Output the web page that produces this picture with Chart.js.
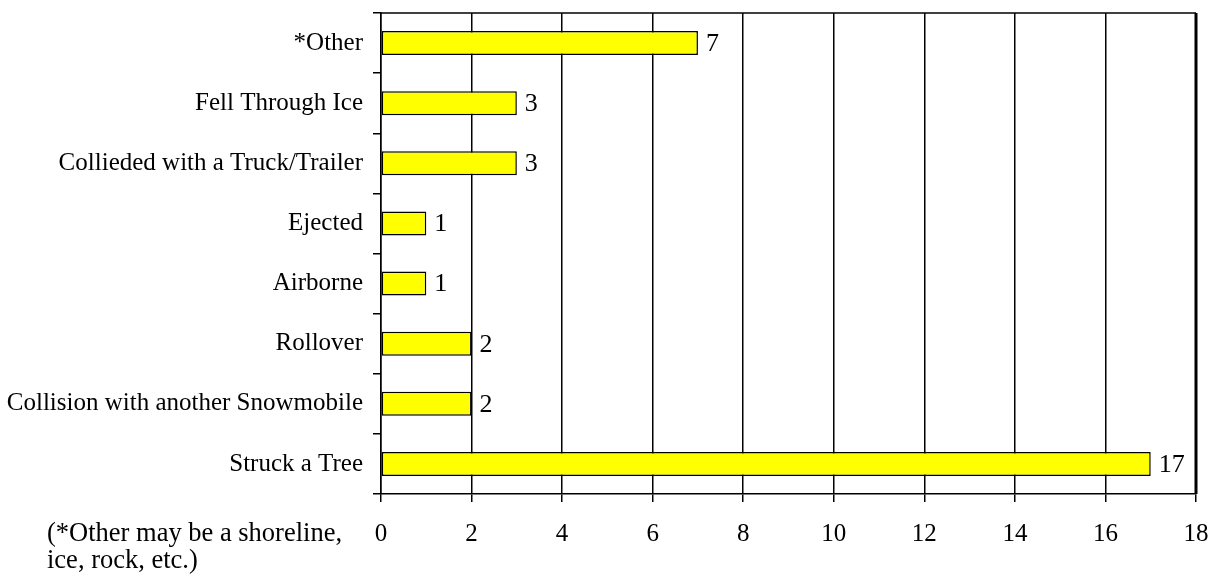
<!DOCTYPE html>
<html>
<head>
<meta charset="utf-8">
<script src="https://cdn.jsdelivr.net/npm/chart.js@4"></script>
<style>
  html, body { margin: 0; padding: 0; background: #fff; }
  #wrap { width: 1218px; height: 584px; }
</style>
</head>
<body>
<div id="wrap"><canvas id="grafico"></canvas></div>
<script>
/* Datos */
const causas = ['*Other', 'Fell Through Ice', 'Collieded with a Truck/Trailer', 'Ejected',
  'Airborne', 'Rollover', 'Collision with another Snowmobile', 'Struck a Tree'];
const cantidades = [7, 3, 3, 1, 1, 2, 2, 17];
const xTicks = [0, 2, 4, 6, 8, 10, 12, 14, 16, 18];
const nota = ['(*Other may be a shoreline,', 'ice, rock, etc.)'];

const fuente = '"Liberation Serif", "Times New Roman", serif';

/* Etiquetas de valor, borde y nota */
const extras = {
  id: 'extras',
  afterDatasetsDraw(chart) {
    const ctx = chart.ctx;
    const area = chart.chartArea;
    ctx.save();
    ctx.strokeStyle = '#000';
    ctx.lineWidth = 1.5;
    ctx.beginPath();
    ctx.moveTo(area.left, area.top);
    ctx.lineTo(area.right, area.top);
    ctx.stroke();
    ctx.lineWidth = 3;
    ctx.beginPath();
    ctx.moveTo(area.right, area.top);
    ctx.lineTo(area.right, area.bottom);
    ctx.stroke();

    ctx.fillStyle = '#000';
    ctx.font = '26px ' + fuente;
    ctx.textBaseline = 'middle';
    ctx.textAlign = 'left';
    chart.getDatasetMeta(0).data.forEach((bar, i) => {
      ctx.fillText(String(cantidades[i]), bar.x + 8, bar.y + 1);
    });

    ctx.font = '26.5px ' + fuente;
    nota.forEach((linea, i) => {
      ctx.fillText(linea, 47, 534 + i * 27);
    });
    ctx.restore();
  }
};

const config = {
  type: 'bar',
  data: {
    labels: causas,
    datasets: [{
      data: cantidades,
      backgroundColor: '#FFFF00',
      borderColor: '#000',
      borderWidth: 1.5,
      borderSkipped: false,
      barPercentage: 0.8,
      categoryPercentage: 0.5
    }]
  },
  options: {
    indexAxis: 'y',
    responsive: true,
    maintainAspectRatio: false,
    animation: false,
    layout: { padding: { top: 13, right: 22, left: 0, bottom: 0 } },
    plugins: {
      legend: { display: false },
      tooltip: { enabled: false }
    },
    scales: {
      x: {
        min: 0,
        max: 18,
        afterBuildTicks: (axis) => { axis.ticks = xTicks.map(v => ({ value: v })); },
        afterFit: (axis) => {
          axis.height = 90;
          axis.paddingLeft = 0;
          axis.paddingRight = 0;
        },
        grid: { color: '#000', lineWidth: 1.5, tickLength: 8 },
        border: { color: '#000', width: 1.5 },
        ticks: { color: '#000', font: { family: fuente, size: 25 }, padding: 17, maxRotation: 0 }
      },
      y: {
        afterFit: (axis) => {
          axis.width = 381;
          axis.paddingTop = 0;
          axis.paddingBottom = 0;
        },
        grid: { offset: true, drawOnChartArea: false, color: '#000', lineWidth: 1.5, tickLength: 8 },
        border: { color: '#000', width: 1.5 },
        ticks: { color: '#000', font: { family: fuente, size: 25 }, padding: 10, autoSkip: false }
      }
    }
  },
  plugins: [extras]
};

new Chart(document.getElementById('grafico').getContext('2d'), config);
</script>
</body>
</html>
